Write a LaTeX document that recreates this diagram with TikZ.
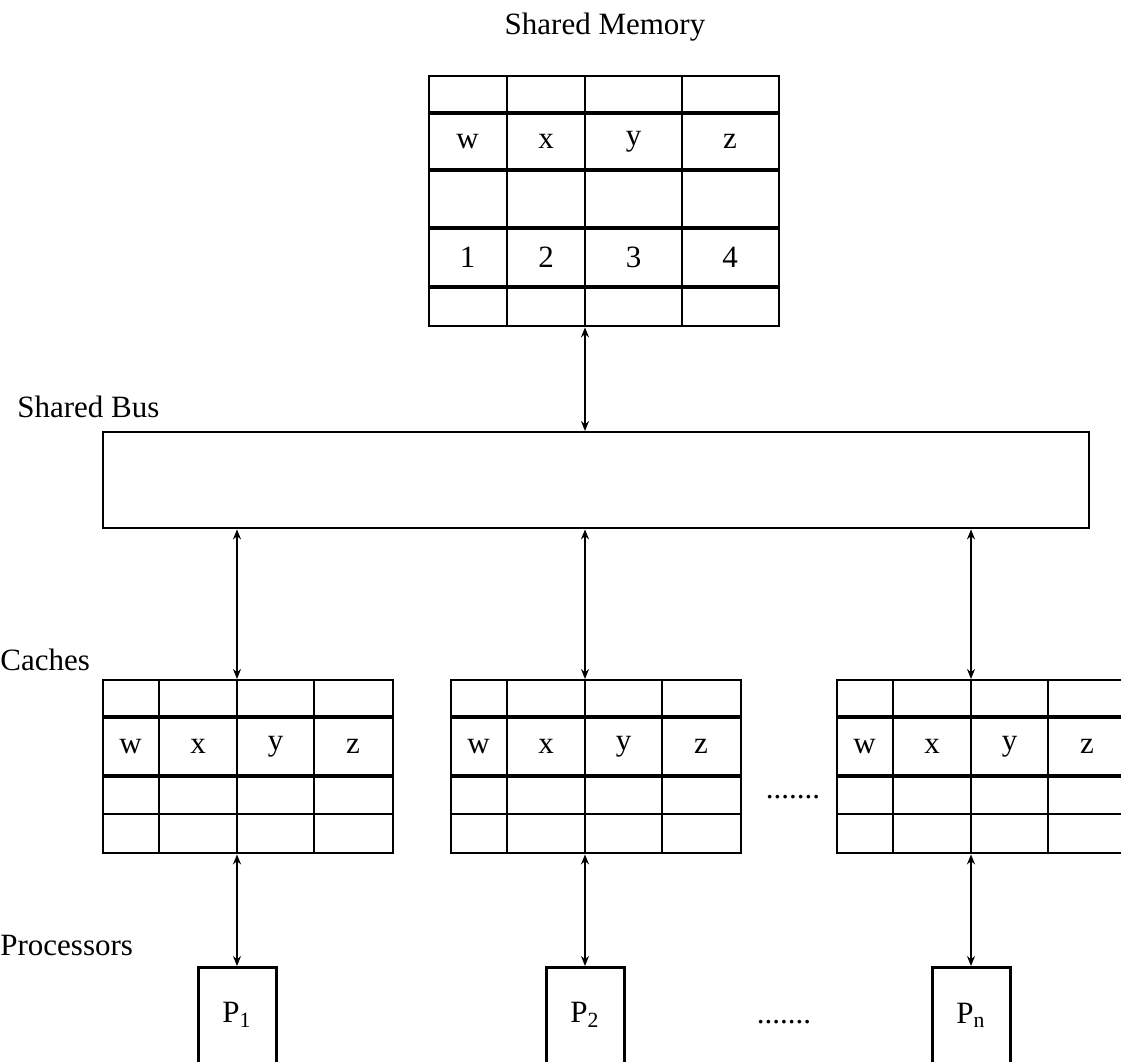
\documentclass[tikz,border=0pt]{standalone}
\usepackage{fontspec}
\setmainfont{Liberation Serif}
\usetikzlibrary{arrows.meta, positioning, calc}

\tikzset{
  tbl/.style={draw, line width=1.2pt, inner sep=0pt},
  thinrule/.style={line width=1pt},
  thickrule/.style={line width=2.2pt},
  cell/.style={font=\fontsize{15.5}{18}\selectfont},
  lbl/.style={font=\fontsize{15.5}{18}\selectfont, inner sep=0pt},
  link/.style={{Stealth[length=5pt,width=4pt]}-{Stealth[length=5pt,width=4pt]}, line width=0.8pt},
  procbox/.style={draw, line width=1.5pt, minimum width=39pt, minimum height=62pt, inner sep=0pt},
}

% one cache: name, left, top
\newcommand{\cachetable}[3]{%
  \node[tbl, anchor=north west, minimum width=145pt, minimum height=86.5pt] (#1) at (#2,#3) {};
  \foreach \cx in {57,135,212}
    \draw[thinrule] ($(#1.north west)+(\cx,0)$) -- ($(#1.south west)+(\cx,0)$);
  \foreach \ry in {38,97}
    \draw[thickrule] ($(#1.north west)+(0,\ry)$) -- ($(#1.north east)+(0,\ry)$);
  \draw[thinrule] ($(#1.north west)+(0,135)$) -- ($(#1.north east)+(0,135)$);
  \foreach \t/\cx in {w/28.5,x/96,y/173.5,z/251}
    \node[cell] (#1-\t) at ($(#1.north west)+(\cx,67.5)$) {\t};
}

\begin{document}
\begin{tikzpicture}[x=0.5pt, y=-0.5pt]
  \clip (0,0) rectangle (1121,1062);

  % shared memory
  \node[lbl] (smlab) at (605,27) {Shared Memory};
  \node[tbl, anchor=north west, minimum width=175pt, minimum height=125pt] (mem) at (428,75) {};
  \foreach \cx in {79,157,254}
    \draw[thinrule] ($(mem.north west)+(\cx,0)$) -- ($(mem.south west)+(\cx,0)$);
  \foreach \ry in {38,95,153,212}
    \draw[thickrule] ($(mem.north west)+(0,\ry)$) -- ($(mem.north east)+(0,\ry)$);
  \foreach \t/\n/\cx in {w/1/39.5,x/2/118,y/3/205.5,z/4/302} {
    \node[cell] (mem-\t) at ($(mem.north west)+(\cx,66.5)$) {\t};
    \node[cell] (mem-\n) at ($(mem.north west)+(\cx,182.5)$) {\n};
  }

  % shared bus
  \node[lbl, anchor=west] (sblab) at (17,407) {Shared Bus};
  \node[tbl, anchor=north west, minimum width=493pt, minimum height=48pt] (bus) at (102,431) {};

  % caches
  \node[lbl, anchor=west] (calab) at (0,660) {Caches};
  \cachetable{c1}{102}{679}
  \cachetable{c2}{450}{679}
  \cachetable{c3}{836}{679}
  \node[lbl] (cdots) at (793,797) {.......};

  % processors
  \node[lbl, anchor=west] (prlab) at (0,945) {Processors};
  \node[procbox, anchor=north] (p1) at (237,966) {};
  \node[procbox, anchor=north] (p2) at (585,966) {};
  \node[procbox, anchor=north] (pn) at (971,966) {};
  \node[cell] (p1txt) at ($(p1.north)+(0,49)$) {P\textsubscript{1}};
  \node[cell] (p2txt) at ($(p2.north)+(0,49)$) {P\textsubscript{2}};
  \node[cell] (pntxt) at ($(pn.north)+(0,49)$) {P\textsubscript{n}};
  \node[lbl] (pdots) at (784,1022) {.......};

  % connectors
  \draw[link] (mem.south -| p2) -- (bus.north -| p2);
  \draw[link] (bus.south -| p1) -- (c1.north -| p1);
  \draw[link] (bus.south -| p2) -- (c2.north -| p2);
  \draw[link] (bus.south -| pn) -- (c3.north -| pn);
  \draw[link] (c1.south -| p1) -- (p1.north);
  \draw[link] (c2.south -| p2) -- (p2.north);
  \draw[link] (c3.south -| pn) -- (pn.north);
\end{tikzpicture}
\end{document}
